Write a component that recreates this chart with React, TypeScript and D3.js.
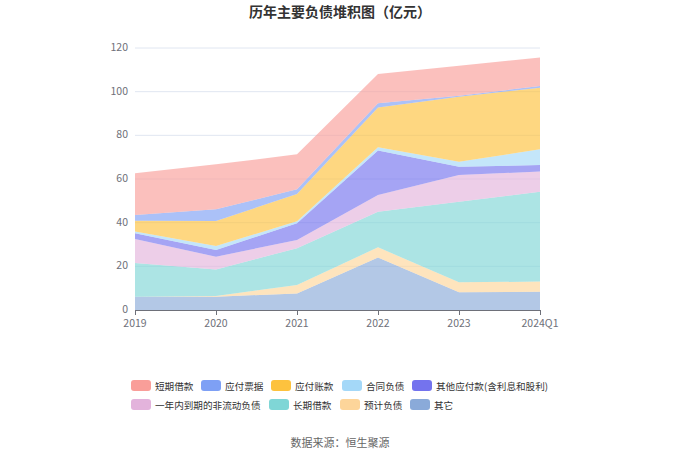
import React from "react";
import * as d3 from "d3";

const categories = ["2019", "2020", "2021", "2022", "2023", "2024Q1"];
const seriesNames = ["其它", "预计负债", "长期借款", "一年内到期的非流动负债", "其他应付款(含利息和股利)", "合同负债", "应付账款", "应付票据", "短期借款"];
const other = [6.1, 6.1, 7.6, 24.0, 8.1, 8.4];
const estLiab = [0, 0.3, 3.9, 4.7, 4.6, 4.6];
const longLoan = [15.4, 12.2, 16.8, 16.3, 36.9, 41.2];
const currentNonCur = [11.0, 5.8, 3.8, 7.7, 12.2, 9.2];
const otherPayable = [2.6, 3.1, 7.6, 20.3, 3.8, 3.0];
const contractLiab = [0.8, 1.8, 0.9, 1.5, 2.3, 7.2];
const accountsPayable = [5.0, 11.5, 12.5, 18.2, 29.8, 28.2];
const notesPayable = [2.6, 5.3, 2.2, 2.0, 0.4, 0.8];
const shortLoan = [19.1, 20.6, 16.0, 13.4, 13.8, 13.0];
const yTicks = [0, 20, 40, 60, 80, 100, 120];

const seriesValues = [other, estLiab, longLoan, currentNonCur, otherPayable, contractLiab, accountsPayable, notesPayable, shortLoan];
const colors = ["#8aaad9", "#fdd59a", "#7fd6d6", "#e3b3dc", "#7473ee", "#a4d8f8", "#fdc23e", "#7ea0f5", "#f99e99"];

const legendRows = [
  ["短期借款", "应付票据", "应付账款", "合同负债", "其他应付款(含利息和股利)"],
  ["一年内到期的非流动负债", "长期借款", "预计负债", "其它"],
];
const legendX = [
  [131, 201, 271, 342, 412],
  [131, 269, 340, 410],
];

export default function App() {
  const W = 680, H = 460;
  const x = d3.scalePoint<string>().domain(categories).range([135, 540]);
  const y = d3.scaleLinear().domain([0, 120]).range([310, 48]);
  const table = categories.map((c, i) => {
    const row: any = { cat: c };
    seriesNames.forEach((n, k) => (row[n] = seriesValues[k][i]));
    return row;
  });
  const stacked = d3.stack<any>().keys(seriesNames)(table);
  const area = d3
    .area<any>()
    .x((d) => x(d.data.cat) as number)
    .y0((d) => y(d[0]))
    .y1((d) => y(d[1]));
  const font = "'Noto Sans CJK SC', 'Noto Sans', sans-serif";
  return (
    <svg width={W} height={H} style={{ display: "block", position: "absolute", left: 0, top: 0 }} fontFamily={font}>
      <rect width={W} height={H} fill="#fff" />
      <text x={340} y={17} textAnchor="middle" fontSize={14} fontWeight="bold" fill="#333">
        历年主要负债堆积图（亿元）
      </text>
      {yTicks.map((t) => (
        <g key={t}>
          {t > 0 && <line x1={135} x2={540} y1={y(t)} y2={y(t)} stroke="#e0e6f1" strokeWidth={1} />}
          <text x={128} y={y(t) + 3} textAnchor="end" fontSize={10.5} fill="#6e7079">
            {t}
          </text>
        </g>
      ))}
      {stacked.map((s, k) => (
        <path key={s.key} d={area(s) as string} fill={colors[k]} fillOpacity={0.65} stroke="none" />
      ))}
      <line x1={135} x2={540} y1={310.5} y2={310.5} stroke="#6e7079" strokeWidth={1} />
      {categories.map((c) => (
        <g key={c}>
          <line x1={(x(c) as number) + 0.5} x2={(x(c) as number) + 0.5} y1={310} y2={315} stroke="#6e7079" />
          <text x={x(c)} y={327} textAnchor="middle" fontSize={10.5} fill="#6e7079">
            {c}
          </text>
        </g>
      ))}
      {legendRows.map((row, r) =>
        row.map((name, i) => {
          const k = seriesNames.indexOf(name);
          const lx = legendX[r][i];
          const ly = 380 + r * 19;
          return (
            <g key={name}>
              <rect x={lx} y={ly} width={20} height={11} rx={3} fill={colors[k]} />
              <text x={lx + 24} y={ly + 9.5} fontSize={9.6} fill="#333">
                {name}
              </text>
            </g>
          );
        })
      )}
      <text x={340} y={447} textAnchor="middle" fontSize={11} fill="#666">
        数据来源：恒生聚源
      </text>
    </svg>
  );
}
